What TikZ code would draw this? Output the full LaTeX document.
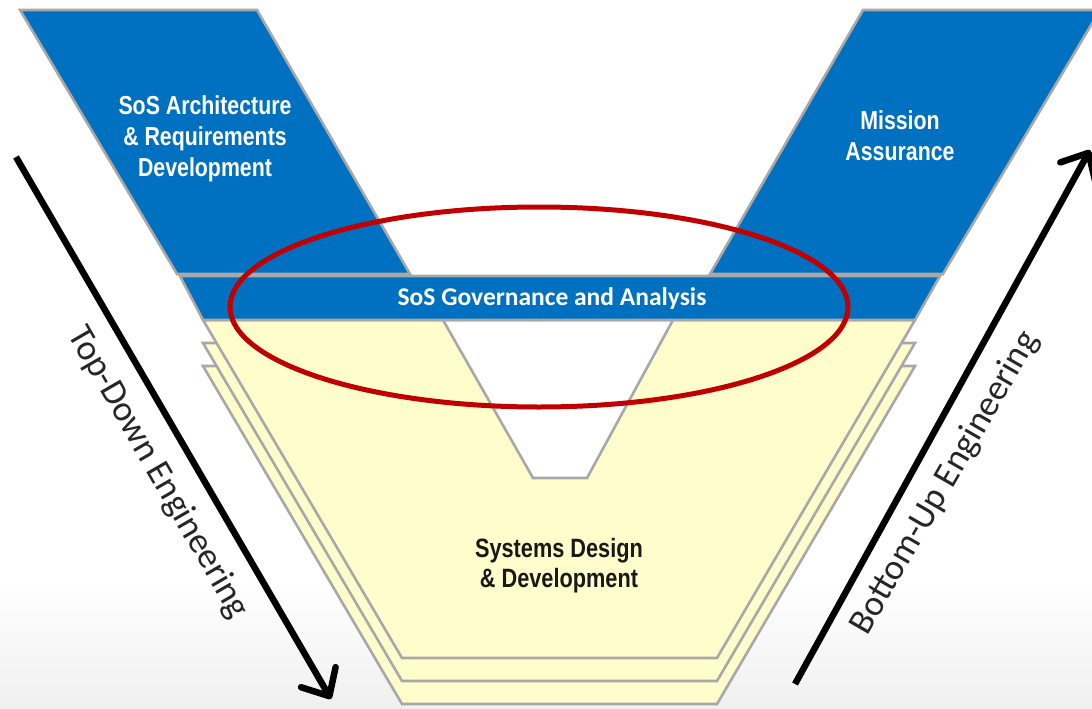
\documentclass[tikz,border=0pt]{standalone}
\usepackage{fontspec}
\setmainfont{Liberation Sans}
\newfontfamily\narrowfont[FakeStretch=0.82]{Liberation Sans}
\newfontfamily\calfont{Carlito}
\usetikzlibrary{arrows.meta}

\definecolor{vblue}{HTML}{0070C0}
\definecolor{vyellow}{HTML}{FFFDCC}
\definecolor{vgray}{HTML}{A8A8A8}
\definecolor{vred}{HTML}{C00000}

\begin{document}
\begin{tikzpicture}[x=1pt,y=-1pt,
  edge/.style={draw=vgray,line width=2.6pt,line join=miter},
  bluebox/.style={edge,fill=vblue},
  layer/.style={edge,fill=vyellow},
  boxtext/.style={text=white,align=center,font=\narrowfont\bfseries\fontsize{26}{31}\selectfont},
  sidetext/.style={text=black!85,font=\calfont\fontsize{36}{40}\selectfont},
  flow/.style={line width=6.5pt,-{Straight Barb[length=22pt,width=40pt,round]}}]
\useasboundingbox (0,0) rectangle (1092,709);
\shade[top color=white,bottom color=black!6] (0,580) rectangle (1092,709);

% stacked design layers, back to front
\foreach \dy in {46,23,0}
  \path[layer,shift={(0,\dy)}] (203,320) -- (915,320) -- (717,658) -- (402,658) -- cycle;

% gap of the V
\path[edge,fill=white] (443,320) -- (533,478) -- (587,478) -- (673,320) -- cycle;

% governance band and upper boxes
\path[bluebox] (180,276) -- (940,276) -- (915,320) -- (203,320) -- cycle;
\path[bluebox] (20,10) -- (257,10) -- (410,274) -- (177,274) -- cycle;
\path[bluebox] (863,10) -- (1100,10) -- (943,274) -- (710,274) -- cycle;

\node[boxtext] (archtxt) at (205,139) {SoS Architecture\\ \& Requirements\\ Development};
\node[boxtext] (misstxt) at (900,136) {Mission\\ Assurance};
\node[text=white,font=\calfont\bfseries\fontsize{25.5}{30}\selectfont] (govtxt) at (552,299) {SoS Governance and Analysis};
\node[boxtext,text=black!90,font=\narrowfont\bfseries\fontsize{26.5}{30}\selectfont] (systxt) at (559,566) {Systems Design\\ \& Development};

% focus ring
\draw[vred,line width=5pt] (539,307) ellipse [x radius=309pt, y radius=100pt];

% engineering directions
\coordinate (td1) at (16,157);
\coordinate (td2) at (331,699);
\coordinate (bu1) at (795,684);
\coordinate (bu2) at (1090,150);
\draw[flow] (td1) -- (td2);
\draw[flow] (bu1) -- (bu2);
\node[sidetext,rotate=-60] (tdtxt) at (158,473) {Top-Down Engineering};
\node[sidetext,rotate=60] (butxt) at (945,483) {Bottom-Up Engineering};

\end{tikzpicture}
\end{document}
